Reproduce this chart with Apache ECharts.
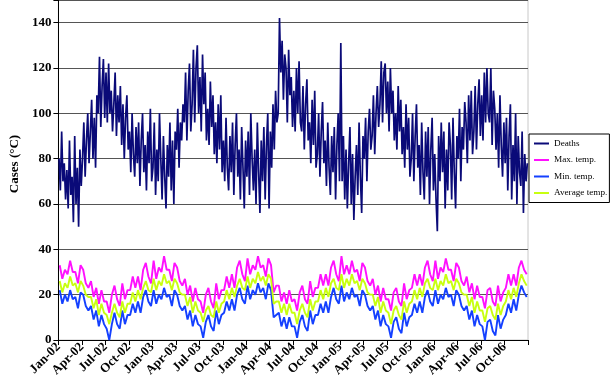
<!DOCTYPE html>
<html>
<head>
<meta charset="utf-8">
<script src="https://cdn.jsdelivr.net/npm/echarts@6/dist/echarts.min.js"></script>
<style>
  html, body { margin: 0; padding: 0; background: #fff; }
  #chart { width: 612px; height: 380px; }
</style>
</head>
<body>
<div id="chart"></div>
<script>
// quarter tick labels, Jan-02 .. Oct-06
const quarterLabels = [
  'Jan-02', 'Apr-02', 'Jul-02', 'Oct-02',
  'Jan-03', 'Apr-03', 'Jul-03', 'Oct-03',
  'Jan-04', 'Apr-04', 'Jul-04', 'Oct-04',
  'Jan-05', 'Apr-05', 'Jul-05', 'Oct-05',
  'Jan-06', 'Apr-06', 'Jul-06', 'Oct-06'
]
const totalDays = 1826

// deaths, ~5 day steps (6 per month), 2002-2006
const deaths = [
  80, 66, 92, 70, 78, 62,  75, 58, 88, 64, 72, 52,  90, 60, 76, 50, 84, 68,
  80, 96, 72, 88, 100, 78,  92, 106, 80, 98, 76, 108,  100, 125, 94, 112, 124, 98,
  118, 96, 122, 100, 110, 92,  104, 118, 90, 108, 96, 112,  86, 104, 80, 98, 108, 84,
  92, 74, 100, 82, 72, 94,  78, 96, 68, 88, 100, 74,  86, 66, 92, 78, 102, 70,
  // 2003
  76, 96, 64, 84, 70, 100,  80, 62, 90, 72, 58, 86,  72, 96, 66, 88, 60, 92,
  84, 102, 76, 96, 88, 104,  96, 118, 88, 110, 122, 92,  104, 128, 96, 120, 130, 100,
  116, 92, 126, 104, 118, 88,  102, 86, 114, 94, 108, 82,  96, 78, 104, 84, 108, 74,
  88, 70, 98, 76, 66, 90,  74, 96, 64, 86, 100, 72,  84, 62, 94, 76, 58, 88,
  // 2004
  72, 92, 64, 100, 80, 66,  84, 60, 96, 74, 56, 88,  70, 94, 62, 86, 100, 58,
  92, 76, 104, 84, 110, 96,  100, 142, 118, 132, 106, 126,  120, 96, 128, 108, 116, 94,
  110, 92, 120, 100, 123, 96,  92, 112, 84, 104, 115, 88,  96, 78, 106, 86, 110, 76,
  82, 100, 72, 92, 105, 78,  88, 68, 96, 76, 64, 90,  74, 94, 62, 86, 100, 70,
  // 2005
  131, 70, 90, 62, 84, 58,  78, 94, 60, 82, 53, 72,  86, 64, 96, 72, 56, 90,
  80, 98, 70, 92, 102, 84,  90, 108, 82, 100, 112, 94,  104, 123, 96, 118, 122, 100,
  114, 92, 120, 100, 110, 88,  100, 84, 112, 92, 106, 82,  94, 76, 104, 84, 98, 72,
  80, 100, 70, 90, 104, 76,  86, 64, 96, 74, 62, 92,  72, 94, 60, 84, 98, 66,
  // 2006
  82, 62, 48, 90, 70, 96,  74, 92, 58, 84, 66, 96,  86, 62, 98, 74, 58, 90,
  80, 102, 70, 94, 84, 105,  96, 78, 108, 88, 110, 82,  92, 112, 84, 104, 115, 90,
  108, 88, 118, 96, 120, 100,  96, 120, 86, 110, 102, 84,  100, 76, 108, 86, 72, 96,
  78, 98, 66, 90, 104, 62,  86, 70, 100, 60, 90, 74,  68, 92, 56, 82, 70, 78
]

// temperatures, ~10 day steps (3 per month)
const maxTemp = [
  33, 27, 31, 29, 35, 30, 30, 25, 33, 31, 25, 23, 26, 19, 23, 16, 22, 17,
  17, 12, 20, 24, 18, 15, 25, 18, 22, 22, 28, 23, 28, 22, 31, 34, 28, 25,
  35, 27, 32, 30, 37, 31, 31, 26, 34, 32, 26, 24, 27, 20, 24, 17, 23, 18,
  17, 12, 20, 23, 17, 14, 25, 18, 22, 22, 28, 23, 29, 23, 32, 35, 29, 26,
  36, 29, 33, 31, 37, 32, 33, 28, 36, 33, 21, 24, 24, 17, 21, 16, 22, 17,
  18, 13, 21, 24, 18, 16, 26, 19, 23, 23, 29, 24, 29, 24, 32, 35, 29, 26,
  37, 29, 33, 29, 35, 30, 31, 26, 34, 32, 26, 24, 27, 20, 24, 17, 23, 18,
  18, 13, 21, 23, 17, 15, 25, 18, 22, 23, 29, 24, 29, 24, 32, 35, 29, 26,
  35, 27, 32, 30, 36, 31, 31, 26, 34, 32, 26, 24, 28, 21, 25, 18, 24, 19,
  19, 14, 22, 23, 17, 15, 24, 17, 21, 23, 29, 24, 29, 24, 32, 35, 31, 29
]
const minTemp = [
  22, 16, 20, 17, 22, 18, 19, 14, 21, 20, 15, 13, 15, 9, 13, 6, 11, 7,
  5, 0, 7, 12, 7, 5, 13, 7, 11, 11, 16, 12, 17, 12, 19, 22, 17, 15,
  22, 16, 20, 18, 23, 19, 20, 15, 22, 20, 15, 13, 15, 9, 13, 6, 11, 7,
  6, 1, 8, 11, 6, 4, 13, 7, 11, 12, 17, 13, 18, 13, 20, 23, 18, 16,
  24, 18, 22, 20, 25, 21, 23, 18, 25, 22, 10, 11, 12, 6, 10, 5, 10, 6,
  6, 1, 8, 11, 6, 4, 13, 7, 11, 11, 16, 12, 17, 12, 19, 23, 18, 16,
  24, 17, 21, 18, 23, 19, 20, 15, 22, 20, 15, 13, 15, 9, 13, 6, 11, 7,
  6, 1, 8, 10, 5, 3, 12, 6, 10, 11, 16, 12, 17, 12, 19, 22, 17, 15,
  22, 16, 20, 18, 23, 19, 20, 15, 22, 20, 15, 13, 15, 9, 13, 6, 11, 7,
  6, 0, 8, 9, 4, 2, 11, 5, 9, 11, 16, 12, 18, 13, 20, 24, 21, 19
]
const avgTemp = [
  26, 21, 25, 23, 28, 24, 25, 21, 26, 24, 20, 19, 19, 14, 18, 11, 16, 12,
  11, 7, 12, 16, 12, 10, 17, 12, 16, 16, 21, 17, 22, 18, 23, 26, 22, 21,
  27, 22, 26, 24, 29, 25, 26, 22, 27, 25, 21, 20, 20, 15, 19, 12, 17, 13,
  12, 8, 13, 15, 11, 10, 17, 12, 16, 17, 22, 18, 23, 19, 24, 27, 23, 22,
  28, 23, 27, 25, 30, 26, 28, 24, 29, 27, 16, 17, 17, 12, 16, 11, 16, 12,
  12, 7, 13, 16, 12, 10, 18, 13, 17, 17, 22, 18, 23, 19, 25, 27, 23, 22,
  29, 23, 27, 24, 29, 25, 26, 22, 27, 25, 21, 20, 20, 15, 19, 12, 17, 13,
  12, 7, 13, 15, 11, 9, 17, 12, 16, 17, 22, 18, 23, 19, 25, 27, 23, 22,
  27, 22, 26, 24, 29, 25, 26, 22, 27, 25, 21, 20, 20, 15, 19, 12, 17, 13,
  13, 8, 14, 15, 11, 9, 16, 11, 15, 17, 22, 18, 23, 19, 25, 29, 26, 24
]

// spread each series evenly over the 5 years
function toPoints(arr) {
  const step = totalDays / arr.length
  return arr.map((v, i) => [(i + 0.5) * step, v])
}

const font = 'Liberation Serif, Times New Roman, serif'
const chart = echarts.init(document.getElementById('chart'))

function lineSeries(name, data, color, width) {
  return {
    name: name,
    type: 'line',
    data: toPoints(data),
    symbol: 'none',
    sampling: 'none',
    lineStyle: { color: color, width: width },
    itemStyle: { color: color },
    animation: false
  }
}

chart.setOption({
  animation: false,
  grid: {
    left: 42, right: 84, top: 0, bottom: 40,
    show: true, borderColor: '#c8c8c8', borderWidth: 1
  },
  legend: {
    orient: 'vertical',
    left: 529, top: 134,
    icon: 'rect',
    itemWidth: 15, itemHeight: 2,
    itemGap: 7.5,
    itemTextGap: 3,
    padding: [5, 2, 5, 5],
    borderColor: '#000', borderWidth: 1,
    textStyle: { fontFamily: font, fontSize: 9.2, color: '#000' },
    data: ['Deaths', 'Max. temp.', 'Min. temp.', 'Average temp.']
  },
  xAxis: {
    type: 'value',
    min: 0, max: totalDays,
    interval: totalDays / 20,
    axisLine: { lineStyle: { color: '#000', width: 1 } },
    axisTick: { show: true, length: 5, lineStyle: { color: '#000' } },
    splitLine: { show: false },
    axisLabel: {
      rotate: 45, margin: 5,
      fontFamily: font, fontSize: 13, fontWeight: 'bold', color: '#000',
      formatter: (v) => quarterLabels[Math.round(v / (totalDays / 20))] || ''
    }
  },
  yAxis: {
    type: 'value',
    min: 0, max: 150, interval: 20,
    name: 'Cases (°C)',
    nameLocation: 'middle',
    nameGap: 32,
    nameTextStyle: { fontFamily: font, fontSize: 13, fontWeight: 'bold', color: '#000', padding: [0, 0, 0, 12] },
    axisLine: { show: true, lineStyle: { color: '#000', width: 1 } },
    axisTick: { show: true, length: 5, lineStyle: { color: '#000' } },
    splitLine: { lineStyle: { color: '#555', width: 1 } },
    axisLabel: {
      margin: 7,
      fontFamily: font, fontSize: 13, fontWeight: 'bold', color: '#000',
      formatter: (v) => (v > 140 ? '' : String(v))
    }
  },
  series: [
    lineSeries('Deaths', deaths, '#0a0a78', 1.7),
    lineSeries('Max. temp.', maxTemp, '#ff10ff', 1.9),
    lineSeries('Min. temp.', minTemp, '#1440ff', 1.9),
    lineSeries('Average temp.', avgTemp, '#c8ff10', 1.9)
  ]
})
</script>
</body>
</html>
